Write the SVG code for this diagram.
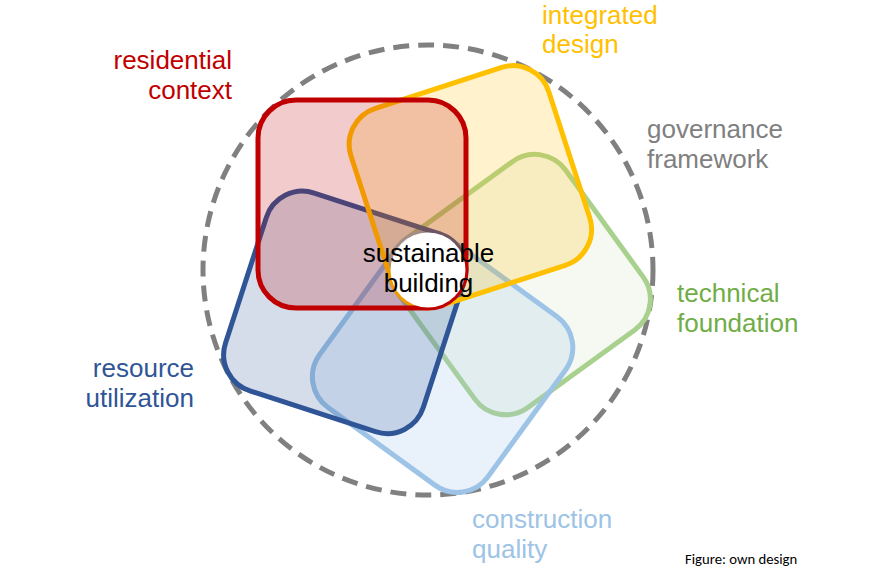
<svg xmlns="http://www.w3.org/2000/svg" width="870" height="570" viewBox="0 0 870 570">
<style>
.lbl{font-family:"Liberation Sans",Arial,sans-serif;font-size:26px}
.sq{stroke-width:5}
</style>
<defs>
<rect id="sqshape" x="258" y="100" width="208" height="208" rx="38" ry="38"/>
</defs>
<rect width="870" height="570" fill="#ffffff"/>
<g id="boundary">
<circle cx="428" cy="270" r="225" fill="none" stroke="#808080" stroke-width="5" stroke-dasharray="16 9"/>
</g>
<g id="technical-foundation" transform="rotate(144 428 270)">
<use href="#sqshape" class="sq" fill="#A9D18E" fill-opacity="0.12" stroke="#A9D18E"/>
</g>
<g id="construction-quality" transform="rotate(216 428 270)">
<use href="#sqshape" class="sq" fill="#9DC3E6" fill-opacity="0.22" stroke="#9DC3E6"/>
</g>
<g id="resource-utilization" transform="rotate(288 428 270)">
<use href="#sqshape" class="sq" fill="#2F5597" fill-opacity="0.2" stroke="#2F5597"/>
</g>
<g id="integrated-design" transform="rotate(72 428 270)">
<use href="#sqshape" class="sq" fill="#FFC000" fill-opacity="0.2" stroke="#FFC000"/>
</g>
<g id="residential-context">
<use href="#sqshape" class="sq" fill="#C00000" fill-opacity="0.2" stroke="#C00000"/>
</g>
<g id="sustainable-building">
<circle cx="428" cy="270" r="37.5" fill="#ffffff"/>
<text class="lbl" x="428.5" y="262" text-anchor="middle" fill="#000000">sustainable</text>
<text class="lbl" x="428.5" y="292" text-anchor="middle" fill="#000000">building</text>
</g>
<g id="labels">
<text class="lbl" x="232" y="69" text-anchor="end" fill="#C00000">residential</text>
<text class="lbl" x="232" y="99" text-anchor="end" fill="#C00000">context</text>
<text class="lbl" x="542" y="24" fill="#FFC000">integrated</text>
<text class="lbl" x="542" y="53" fill="#FFC000">design</text>
<text class="lbl" x="647" y="138" fill="#808080">governance</text>
<text class="lbl" x="647" y="168" fill="#808080">framework</text>
<text class="lbl" x="677" y="302" fill="#70AD47">technical</text>
<text class="lbl" x="677" y="332" fill="#70AD47">foundation</text>
<text class="lbl" x="194" y="377" text-anchor="end" fill="#2F5597">resource</text>
<text class="lbl" x="194" y="407" text-anchor="end" fill="#2F5597">utilization</text>
<text class="lbl" x="472" y="528" fill="#9DC3E6">construction</text>
<text class="lbl" x="472" y="558" fill="#9DC3E6">quality</text>
<text x="685" y="564" font-family="Carlito,'Liberation Sans',Arial,sans-serif" font-size="14.7" fill="#000000">Figure: own design</text>
</g>
</svg>
